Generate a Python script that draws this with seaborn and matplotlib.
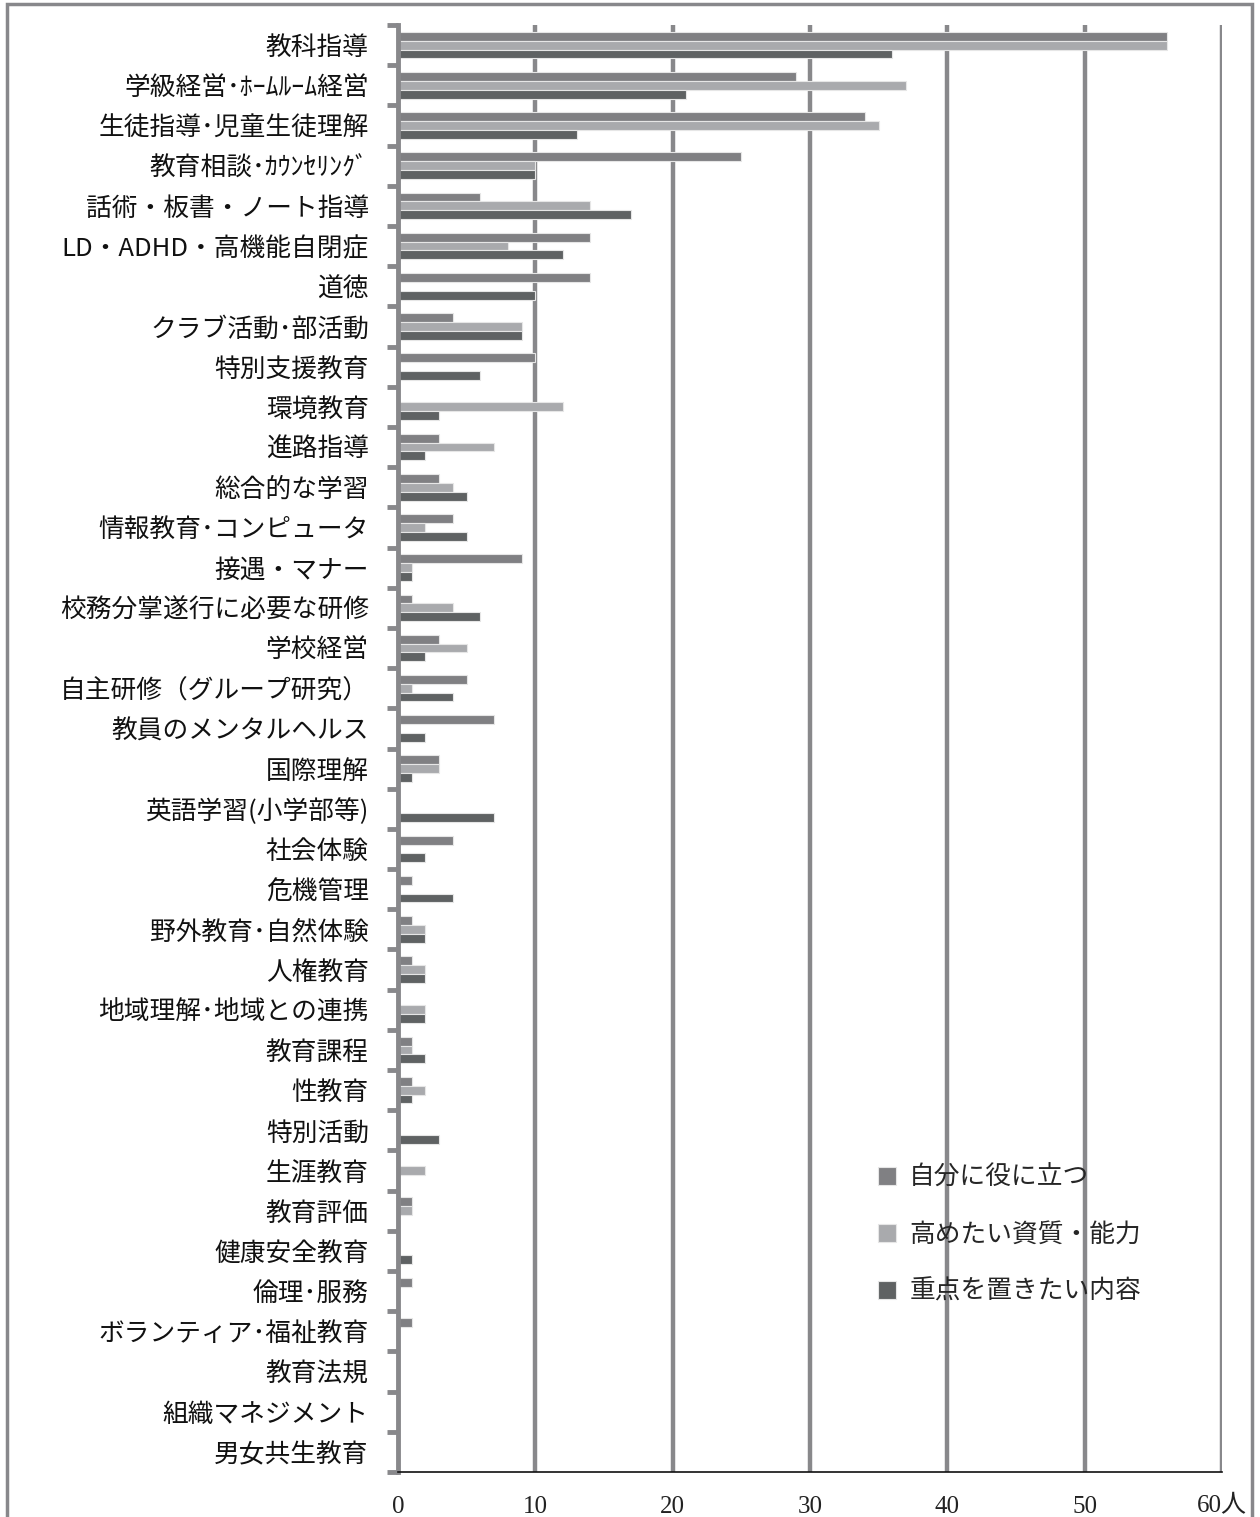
import matplotlib
matplotlib.use("Agg")
import matplotlib.pyplot as plt
import seaborn as sns
import pandas as pd
from matplotlib.patches import Rectangle

sns.set_theme(style="white")
plt.rcParams['font.family'] = ['Noto Sans CJK JP', 'DejaVu Sans']

categories = [
    "教科指導", "学級経営･ﾎｰﾑﾙｰﾑ経営", "生徒指導･児童生徒理解", "教育相談･ｶｳﾝｾﾘﾝｸﾞ",
    "話術・板書・ノート指導", "LD・ADHD・高機能自閉症", "道徳", "クラブ活動･部活動",
    "特別支援教育", "環境教育", "進路指導", "総合的な学習", "情報教育･コンピュータ",
    "接遇・マナー", "校務分掌遂行に必要な研修", "学校経営", "自主研修（グループ研究）",
    "教員のメンタルヘルス", "国際理解", "英語学習(小学部等)", "社会体験", "危機管理",
    "野外教育･自然体験", "人権教育", "地域理解･地域との連携", "教育課程", "性教育",
    "特別活動", "生涯教育", "教育評価", "健康安全教育", "倫理･服務",
    "ボランティア･福祉教育", "教育法規", "組織マネジメント", "男女共生教育",
]
series_names = ["自分に役に立つ", "高めたい資質・能力", "重点を置きたい内容"]
useful = [56, 29, 34, 25, 6, 14, 14, 4, 10, 0, 3, 3, 4, 9, 1, 3, 5, 7, 3, 0, 4, 1,
          1, 1, 0, 1, 1, 0, 0, 1, 0, 1, 1, 0, 0, 0]
improve = [56, 37, 35, 10, 14, 8, 0, 9, 0, 12, 7, 4, 2, 1, 4, 5, 1, 0, 3, 0, 0, 0,
           2, 2, 2, 1, 2, 0, 2, 1, 0, 0, 0, 0, 0, 0]
focus = [36, 21, 13, 10, 17, 12, 10, 9, 6, 3, 2, 5, 5, 1, 6, 2, 4, 2, 1, 7, 2, 4,
         2, 2, 2, 2, 1, 3, 0, 0, 1, 0, 0, 0, 0, 0]
colors = ["#808083", "#a9aaad", "#5f6263"]
xticks = [0, 10, 20, 30, 40, 50, 60]
xticklabels = ["0", "10", "20", "30", "40", "50", "60人"]

rows = []
for name, vals in zip(series_names, [useful, improve, focus]):
    for c, v in zip(categories, vals):
        rows.append({"cat": c, "val": v, "series": name})
df = pd.DataFrame(rows)

fig = plt.figure(figsize=(12.6, 15.17), dpi=100)
ax = fig.add_axes([398/1260, 1-1472/1517, (1222-398)/1260, (1472-25)/1517])

ax.set_axisbelow(True)
for xv in xticks[1:]:
    ax.axvline(xv, color="#88888b", lw=3.2, zorder=0)

sns.barplot(data=df, y="cat", x="val", hue="series", orient="h", order=categories,
            hue_order=series_names, palette=colors, width=0.66, saturation=1,
            edgecolor="#e6e6e6", linewidth=0.8, ax=ax, zorder=2)

ax.set_xlim(0, 60)
ax.set_ylim(len(categories) - 0.5, -0.5)
ax.set_xticks(xticks)
ax.set_xticklabels(xticklabels, family=['Liberation Serif', 'Noto Sans CJK JP'],
                   fontsize=18, color="#222222")
ax.tick_params(axis="x", length=0, pad=17)
ax.set_yticks(range(len(categories)))
ax.set_yticklabels(categories, fontsize=18.5, color="#111111")
ax.set_yticks([i - 0.5 for i in range(len(categories) + 1)], minor=True)
ax.tick_params(axis="y", which="major", length=0, pad=21)
ax.tick_params(axis="y", which="minor", length=8, width=3.5, color="#88888b", left=True)
ax.set_xlabel("")
ax.set_ylabel("")

for s in ["top", "right"]:
    ax.spines[s].set_visible(False)
ax.spines["left"].set_color("#88888b")
ax.spines["left"].set_linewidth(3.5)
ax.spines["bottom"].set_color("#111111")
ax.spines["bottom"].set_linewidth(1.2)

handles, labels = ax.get_legend_handles_labels()
ax.legend(handles, labels, loc="upper left", bbox_to_anchor=(0.555, 0.228),
          frameon=False, fontsize=18.5, handlelength=0.7, handleheight=0.7,
          handletextpad=0.5, labelspacing=1.2)

fig.patches.append(Rectangle((7/1260, -0.01), (1252-7)/1260, 1.01 - 4/1517,
                             transform=fig.transFigure, fill=False,
                             edgecolor="#88888b", lw=2.5))

fig.savefig("out.png", dpi=100, facecolor="white")
